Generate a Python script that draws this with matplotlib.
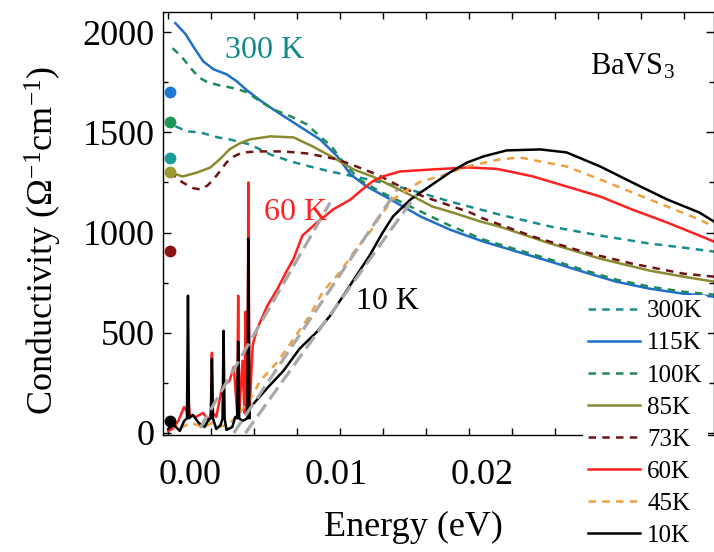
import numpy as np
import matplotlib.pyplot as plt
from matplotlib.ticker import FixedLocator, MultipleLocator

plt.rcParams['font.family'] = ['Liberation Serif', 'DejaVu Serif']
plt.rcParams['mathtext.fontset'] = 'custom'
plt.rcParams['mathtext.rm'] = 'Liberation Serif'
plt.rcParams['mathtext.it'] = 'Liberation Serif:italic'

# energy (eV) and optical conductivity (1/(Ohm cm))
e_300 = [-0.0010, -0.0002, 0.0007, 0.0019, 0.0027, 0.0041, 0.0055, 0.0069, 0.0082, 0.0096,
         0.0116, 0.0137, 0.0155, 0.0178, 0.0212, 0.0247, 0.0281, 0.0315, 0.0338, 0.0359]
s_300 = [1530, 1505, 1500, 1475, 1465, 1440, 1390, 1355, 1330, 1305,
         1275, 1240, 1205, 1155, 1090, 1030, 985, 945, 925, 905]

e_115 = [-0.0010, -0.0003, 0.0003, 0.0009, 0.0016, 0.0025, 0.0032, 0.0039, 0.0048, 0.0057,
         0.0075, 0.0089, 0.0101, 0.0110, 0.0121, 0.0135, 0.0158, 0.0178, 0.0201, 0.0224,
         0.0247, 0.0269, 0.0292, 0.0315, 0.0338, 0.0359]
s_115 = [2045, 1990, 1920, 1855, 1815, 1790, 1755, 1710, 1660, 1615,
         1530, 1465, 1380, 1290, 1230, 1175, 1080, 1015, 955, 905,
         855, 805, 755, 720, 695, 680]

e_100 = [-0.0012, -0.0006, 0.0000, 0.0006, 0.0012, 0.0020, 0.0027, 0.0033, 0.0039, 0.0048,
         0.0057, 0.0069, 0.0080, 0.0089, 0.0097, 0.0105, 0.0116, 0.0130, 0.0151, 0.0178,
         0.0201, 0.0224, 0.0247, 0.0269, 0.0292, 0.0315, 0.0338, 0.0359]
s_100 = [1920, 1880, 1825, 1775, 1750, 1735, 1725, 1715, 1700, 1655,
         1615, 1580, 1540, 1480, 1430, 1350, 1265, 1205, 1130, 1035,
         965, 915, 865, 815, 765, 730, 705, 690]

e_85 = [-0.0014, -0.0005, 0.0005, 0.0014, 0.0021, 0.0027, 0.0034, 0.0041, 0.0055, 0.0071,
        0.0084, 0.0098, 0.0112, 0.0125, 0.0139, 0.0153, 0.0166, 0.0180, 0.0199, 0.0212,
        0.0247, 0.0281, 0.0315, 0.0338, 0.0359]
s_85 = [1300, 1280, 1300, 1325, 1370, 1415, 1445, 1465, 1480, 1475,
        1430, 1375, 1315, 1280, 1230, 1180, 1130, 1100, 1055, 1030,
        945, 870, 810, 780, 755]

e_73 = [-0.0014, -0.0005, 0.0002, 0.0007, 0.0012, 0.0016, 0.0021, 0.0025, 0.0030, 0.0036,
        0.0048, 0.0064, 0.0080, 0.0091, 0.0101, 0.0114, 0.0128, 0.0144, 0.0160, 0.0176,
        0.0192, 0.0201, 0.0235, 0.0269, 0.0303, 0.0338, 0.0359]
s_73 = [1300, 1250, 1222, 1215, 1235, 1265, 1310, 1350, 1380, 1400,
        1405, 1405, 1395, 1380, 1365, 1330, 1290, 1230, 1180, 1140,
        1100, 1070, 980, 905, 845, 795, 780]

e_60 = [-0.0015, -0.0012, -0.0008, -0.0004, 0.0000, 0.0004, 0.0009, 0.0013, 0.0018, 0.0022,
        0.0027, 0.0030, 0.0036, 0.0043, 0.0046, 0.0053, 0.0060, 0.0066, 0.0071, 0.0077,
        0.0087, 0.0098, 0.0110, 0.0118, 0.0125, 0.0132, 0.0144, 0.0166, 0.0190, 0.0210,
        0.0219, 0.0235, 0.0258, 0.0281, 0.0303, 0.0327, 0.0349, 0.0359]
s_60 = [10, 20, 60, 130, 90, 80, 100, 60, 80, 230,
        260, 330, 360, 440, 520, 635, 720, 805, 870, 985,
        1050, 1115, 1165, 1215, 1255, 1280, 1305, 1315, 1325, 1318,
        1305, 1280, 1230, 1180, 1115, 1050, 985, 955]
spike_e_60 = [-0.0001, 0.0015, 0.0033, 0.0038, 0.0040]
spike_s_60 = [160, 400, 685, 605, 1250]

e_45 = [-0.0015, -0.0010, -0.0005, 0.0000, 0.0005, 0.0010, 0.0015, 0.0020, 0.0025, 0.0029,
        0.0036, 0.0043, 0.0048, 0.0060, 0.0071, 0.0082, 0.0091, 0.0103, 0.0114, 0.0123,
        0.0132, 0.0139, 0.0146, 0.0158, 0.0171, 0.0190, 0.0212, 0.0226, 0.0240, 0.0258,
        0.0281, 0.0303, 0.0327, 0.0349, 0.0359]
s_45 = [20, 40, 30, 50, 40, 30, 50, 30, 40, 60,
        120, 190, 260, 355, 470, 585, 705, 805, 920, 1000,
        1100, 1165, 1200, 1255, 1280, 1330, 1365, 1375, 1355, 1330,
        1265, 1200, 1130, 1065, 1030]

e_10 = [-0.0015, -0.0011, -0.0007, -0.0004, 0.0002, 0.0006, 0.0010, 0.0013, 0.0018, 0.0021,
        0.0025, 0.0029, 0.0031, 0.0036, 0.0041, 0.0053, 0.0064, 0.0075, 0.0087, 0.0096,
        0.0105, 0.0114, 0.0123, 0.0132, 0.0139, 0.0151, 0.0166, 0.0178, 0.0190, 0.0201,
        0.0217, 0.0240, 0.0258, 0.0281, 0.0303, 0.0327, 0.0349, 0.0359]
s_10 = [20, 40, 10, 60, 90, 50, 30, 70, 20, 40,
        15, 30, 80, 60, 125, 225, 310, 420, 505, 585,
        685, 785, 885, 1000, 1080, 1165, 1240, 1300, 1350, 1380,
        1410, 1415, 1400, 1330, 1250, 1165, 1100, 1055]
spike_e_10 = [-0.00014, 0.0015, 0.0023, 0.0033, 0.0040]
spike_s_10 = [685, 370, 510, 455, 970]

# linear fits (grey dashed)
fit_e = [[0.0007, 0.0096], [0.0030, 0.0142], [0.0038, 0.0155]]
fit_s = [[25, 1150], [0, 1215], [0, 1190]]

# dc conductivity points on the left axis
dc_e = -0.00137
dc_s = [1700, 1550, 1370, 1300, 910, 60]
dc_colors = ['#1f78d0', '#20965a', '#1f9a9a', '#9a9a30', '#8b1515', 'black']

labels = ['300K', '115K', '100K', '85K', '73K', '60K', '45K', '10K']


def with_spikes(e, s, se, ss, w=0.00007):
    e = list(e); s = list(s)
    for x0, h in zip(se, ss):
        base = np.interp(x0, e, s)
        e += [x0 - w, x0, x0 + w]
        s += [base, h, base]
    order = np.argsort(e, kind='stable')
    return np.array(e)[order], np.array(s)[order]


fig = plt.figure(figsize=(7.14, 5.52), dpi=100)
ax = fig.add_axes([0.2283, 0.212, 0.7717, 0.766])

dash = (0, (3, 2.5))
lw = 1.8
h300, = ax.plot(e_300, s_300, color='#1a8c8c', lw=lw, ls=dash, label=labels[0])
h115, = ax.plot(e_115, s_115, color='#1f6fc8', lw=lw, label=labels[1])
h100, = ax.plot(e_100, s_100, color='#1f8a55', lw=lw, ls=dash, label=labels[2])
h85, = ax.plot(e_85, s_85, color='#8a8a30', lw=lw, label=labels[3])
h73, = ax.plot(e_73, s_73, color='#6e1414', lw=lw, ls=dash, label=labels[4])
x, y = with_spikes(e_60, s_60, spike_e_60, spike_s_60)
h60, = ax.plot(x, y, color='#ff2020', lw=lw, label=labels[5])
h45, = ax.plot(e_45, s_45, color='#f0a040', lw=lw, ls=dash, label=labels[6])
x, y = with_spikes(e_10, s_10, spike_e_10, spike_s_10)
h10, = ax.plot(x, y, color='black', lw=lw, label=labels[7])

for fe, fs in zip(fit_e, fit_s):
    ax.plot(fe, fs, color='#a8a8a8', lw=2.3, ls=(0, (4.5, 2)))

for s, c in zip(dc_s, dc_colors):
    ax.plot(dc_e, s, 'o', color=c, ms=7.5, clip_on=False, zorder=5)

ax.text(0.0051, 1910, '300 K', color='#128a8a', fontsize=23, ha='center', va='center')
ax.text(0.0072, 1102, '60 K', color='#ff2020', fontsize=23, ha='center', va='center')
ax.text(0.0135, 655, '10 K', color='black', fontsize=23, ha='center', va='center')
ax.text(0.0303, 1826, 'BaVS$_\\mathregular{3}$', color='black', fontsize=22, ha='center', va='center')

ax.set_xlim(-0.00185, 0.0359)
ax.set_ylim(-10, 2100)

ax.set_xticks([0, 0.01, 0.02])
ax.set_xticklabels(['0.00', '0.01', '0.02'])
ax.xaxis.set_minor_locator(FixedLocator(-0.0015 + 0.002945 * np.arange(13)))
ax.set_yticks([0, 500, 1000, 1500, 2000])
ax.yaxis.set_minor_locator(MultipleLocator(250))
ax.tick_params(axis='x', which='major', length=0, labelsize=26, pad=17, top=True)
ax.tick_params(axis='x', which='minor', length=5, width=1, direction='in', top=True, bottom=True)
ax.tick_params(axis='y', which='major', length=6, width=1, direction='in', labelsize=26, pad=6, right=True)
ax.tick_params(axis='y', which='minor', length=3.5, width=1, direction='in', right=True)
for sp in ax.spines.values():
    sp.set_linewidth(1.0)

ax.set_xlabel('Energy (eV)', fontsize=26)
ax.xaxis.set_label_coords(0.454, -0.18)
ax.set_ylabel('Conductivity (Ω$^\\mathregular{-1}$cm$^\\mathregular{-1}$)', fontsize=26)
ax.yaxis.set_label_coords(-0.18, 0.46)

fig.legend(handles=[h300, h115, h100, h85, h73, h60, h45, h10],
           loc='upper left', bbox_to_anchor=(0.817, 0.466), fontsize=18,
           frameon=True, facecolor='white', edgecolor='none', framealpha=1,
           handlelength=2.05, handletextpad=0.3, labelspacing=0.385,
           borderpad=0.2, borderaxespad=0)

fig.savefig('out.png', dpi=100)
